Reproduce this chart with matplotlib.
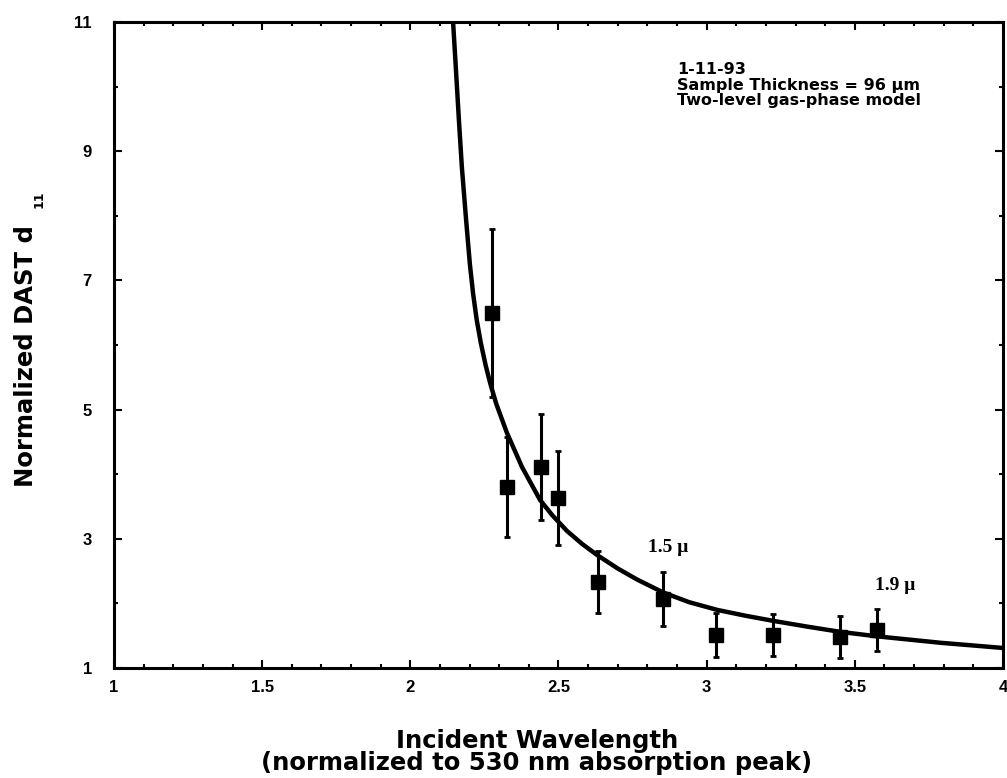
import numpy as np
import matplotlib.pyplot as plt
from matplotlib.ticker import MultipleLocator

# measured d11 (normalized) vs incident wavelength / 530 nm
wl = np.array([2.276, 2.326, 2.44, 2.50, 2.633, 2.853, 3.03, 3.225, 3.45, 3.575])
d11 = np.array([6.50, 3.80, 4.11, 3.63, 2.33, 2.07, 1.51, 1.51, 1.48, 1.59])
err = np.array([1.30, 0.77, 0.82, 0.73, 0.48, 0.42, 0.34, 0.32, 0.33, 0.33])

# two-level gas-phase model curve
model_wl = np.array([2.143, 2.154, 2.164, 2.174, 2.188, 2.201, 2.212, 2.224, 2.238,
                     2.254, 2.270, 2.290, 2.326, 2.377, 2.438, 2.48, 2.529, 2.58,
                     2.63, 2.70, 2.765, 2.853, 2.94, 3.035, 3.13, 3.224, 3.34,
                     3.45, 3.575, 3.79, 4.0])
model_d = np.array([11.1, 10.26, 9.48, 8.75, 7.95, 7.25, 6.79, 6.39, 6.03,
                    5.69, 5.40, 5.09, 4.64, 4.11, 3.60, 3.36, 3.12, 2.92,
                    2.75, 2.54, 2.37, 2.17, 2.02, 1.90, 1.81, 1.73, 1.64,
                    1.56, 1.49, 1.39, 1.31])

xticks = [1, 1.5, 2, 2.5, 3, 3.5, 4]
xticklabels = ['1', '1.5', '2', '2.5', '3', '3.5', '4']
yticks = [1, 3, 5, 7, 9, 11]

fig = plt.figure(figsize=(10.07, 7.78), dpi=100)
ax = fig.add_axes([0.1132, 0.1414, 0.8828, 0.8303])

ax.plot(model_wl, model_d, color='black', lw=3.2, solid_capstyle='round',
        solid_joinstyle='round')
ax.errorbar(wl, d11, yerr=err, fmt='s', color='black', ms=10, elinewidth=2.2,
            capsize=2.5, capthick=2)

ax.annotate('1.5 μ', xy=(wl[5], d11[5]), xytext=(3.6, 36.7), textcoords='offset points',
            ha='center', va='center', fontsize=14, family='Liberation Serif', weight='bold')
ax.annotate('1.9 μ', xy=(wl[9], d11[9]), xytext=(13, 31.7), textcoords='offset points',
            ha='center', va='center', fontsize=14, family='Liberation Serif', weight='bold')

ax.set_xlim(1, 4)
ax.set_ylim(1, 11)
ax.set_xticks(xticks)
ax.set_xticklabels(xticklabels)
ax.set_yticks(yticks)
ax.xaxis.set_minor_locator(MultipleLocator(0.1))
ax.yaxis.set_minor_locator(MultipleLocator(1))
ax.tick_params(which='both', direction='in', top=True, right=True, width=1.5)
ax.tick_params(which='major', length=6)
ax.tick_params(which='minor', length=3)
ax.tick_params(axis='x', pad=9)
ax.tick_params(axis='y', pad=16)
for lab in ax.get_xticklabels() + ax.get_yticklabels():
    lab.set_family('Liberation Sans')
    lab.set_weight('bold')
    lab.set_fontsize(12)
for sp in ax.spines.values():
    sp.set_linewidth(2.2)

fig.text(677 / 1007, 1 - 62 / 778,
         '1-11-93\nSample Thickness = 96 μm\nTwo-level gas-phase model',
         ha='left', va='top', fontsize=11.5, weight='bold', linespacing=1.05)

fig.text(26 / 1007, 1 - 356 / 778, 'Normalized DAST d', rotation=90,
         ha='center', va='center', fontsize=17.5, weight='bold')
fig.text(39 / 1007, 1 - 199 / 778, '11', rotation=90,
         ha='center', va='center', fontsize=9, weight='bold')

fig.text(537 / 1007, 1 - 752 / 778,
         'Incident Wavelength\n(normalized to 530 nm absorption peak)',
         ha='center', va='center', fontsize=17.5, weight='bold', linespacing=0.92)

fig.savefig('out.png', dpi=100)
